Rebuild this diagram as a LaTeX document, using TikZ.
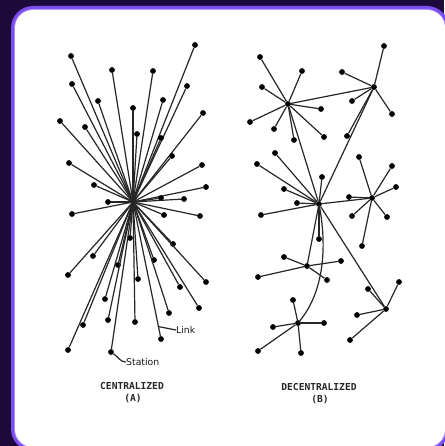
\documentclass[tikz,border=0pt]{standalone}
\usepackage{fontspec}
\setmainfont{DejaVu Sans}
\newfontfamily\capfont{DejaVu Sans Mono}
\definecolor{bgpurple}{HTML}{1C0A3A}
\definecolor{rimpurple}{HTML}{7C4DEF}
\definecolor{rimlight}{HTML}{A98BFA}
\tikzset{
  st/.style={circle, fill=black, inner sep=0pt, minimum size=5.8pt},
  hubst/.style={circle, fill=black, inner sep=0pt, minimum size=5pt},
  ln/.style={line width=1.2pt, draw=black!85},
  lbl/.style={font=\fontsize{9.3}{10}\selectfont, inner sep=0pt, text=black!90},
  captxt/.style={font=\capfont\bfseries\fontsize{9.6}{10}\selectfont, inner sep=0pt, text=black!85}
}
\begin{document}
\begin{tikzpicture}[x=1pt, y=-1pt]
\useasboundingbox (0,0) rectangle (444,446);
% frame
\fill[bgpurple] (0,0) rectangle (444,446);
\fill[rimpurple, rounded corners=22pt] (11,6) rectangle (449,451);
\fill[rimlight, rounded corners=19pt] (14,9) rectangle (446,448);
\fill[white, rounded corners=18pt] (15,10) rectangle (445,447);

% ---------- centralized ----------
\node[hubst] (hub) at (133,202) {};
\foreach \p [count=\i] in {(195,45),(71,56),(112,70),(153,71),(187,86),(72,84),(98,101),(163,100),(133,108),(203,113),(60,121),(85,127),(137,134),(161,138),(172,156),(69,163),(202,165),(94,185),(206,187),(108,202),(161,198),(184,199),(72,214),(164,215),(200,216),(130,238),(173,244),(93,256),(154,260),(118,265),(68,275),(138,279),(206,282),(180,287),(105,299),(199,308),(169,313),(108,320),(135,322),(83,325),(161,339),(68,350),(111,352)}
{
  \node[st] (c\i) at \p {};
  \draw[ln] (hub.center) -- (c\i);
}
\path (hub.center) -- (c41) coordinate[pos=0.93] (lk);
\node[lbl, anchor=west] (linklbl) at (176,330) {Link};
\draw[ln] (lk) -- (linklbl.west);
\node[lbl, anchor=west] (stlbl) at (126,362) {Station};
\draw[ln] (c43) to[out=-35, in=180] (stlbl.west);
\node[captxt] (capA) at (132,386) {CENTRALIZED};
\node[captxt] (capA2) at (133,398) {(A)};

% ---------- decentralized ----------
\node[st] (A) at (288,104) {};
\node[st] (B) at (374,87) {};
\node[st] (C) at (319,204) {};
\node[st] (D) at (372,198) {};
\node[st] (E) at (307,266) {};
\node[st] (F) at (386,309) {};
\node[st] (G) at (298,323) {};
\draw[ln] (A) -- (B);
\draw[ln] (A) -- (C);
\draw[ln] (B) -- (C);
\draw[ln] (C) -- (D);
\draw[ln] (C) -- (E);
\draw[ln] (C) -- (F);
\draw[ln] (C.center) .. controls (327,245) and (325,292) .. (G.center);
\foreach \p [count=\i] in {(260,57),(302,71),(262,87),(321,109),(250,122),(274,129),(294,140),(324,137)}
{ \node[st] (a\i) at \p {}; \draw[ln] (A) -- (a\i); }
\foreach \p [count=\i] in {(384,46),(342,72),(352,101),(392,114),(347,136)}
{ \node[st] (b\i) at \p {}; \draw[ln] (B) -- (b\i); }
\foreach \p [count=\i] in {(275,153),(257,164),(322,177),(284,189),(297,203),(261,215),(319,239)}
{ \node[st] (k\i) at \p {}; \draw[ln] (C) -- (k\i); }
\foreach \p [count=\i] in {(359,157),(392,166),(396,187),(349,197),(352,216),(387,217),(362,246)}
{ \node[st] (d\i) at \p {}; \draw[ln] (D) -- (d\i); }
\foreach \p [count=\i] in {(284,257),(341,261),(258,277),(327,280)}
{ \node[st] (e\i) at \p {}; \draw[ln] (E) -- (e\i); }
\foreach \p [count=\i] in {(399,282),(368,289),(357,315),(350,340)}
{ \node[st] (f\i) at \p {}; \draw[ln] (F) -- (f\i); }
\foreach \p [count=\i] in {(293,300),(273,327),(324,323),(258,351),(301,353)}
{ \node[st] (g\i) at \p {}; \draw[ln] (G) -- (g\i); }
\node[captxt] (capB) at (319,387) {DECENTRALIZED};
\node[captxt] (capB2) at (320,399) {(B)};
\end{tikzpicture}
\end{document}
